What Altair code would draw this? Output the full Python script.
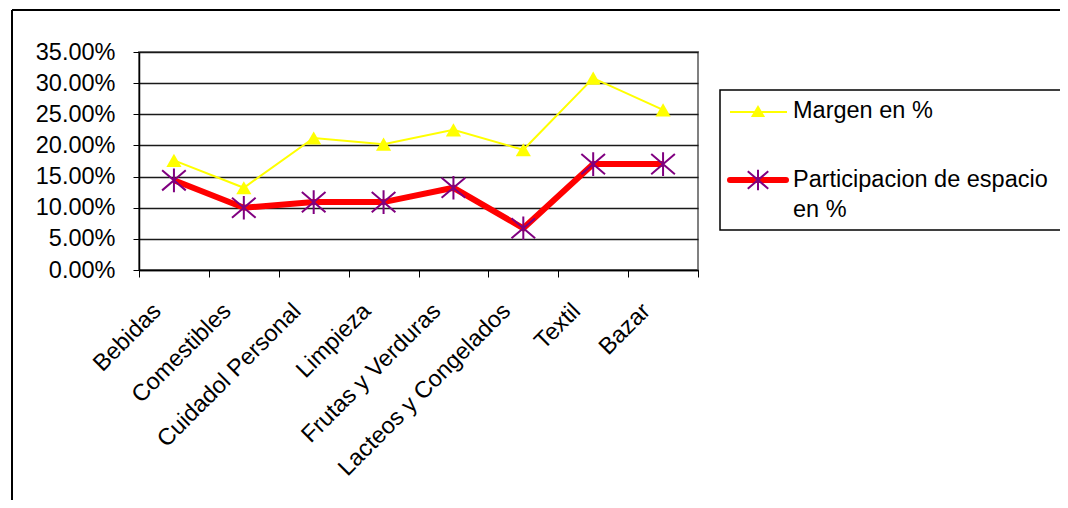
import altair as alt
import pandas as pd

categories = ["Bebidas", "Comestibles", "Cuidadol Personal", "Limpieza",
              "Frutas y Verduras", "Lacteos y Congelados", "Textil", "Bazar"]
margen = [0.176, 0.132, 0.212, 0.202, 0.225, 0.193, 0.308, 0.257]
participacion = [0.144, 0.100, 0.109, 0.109, 0.132, 0.067, 0.170, 0.170]
y_ticks = [0.0, 0.05, 0.10, 0.15, 0.20, 0.25, 0.30, 0.35]
series_names = ["Margen en %", "Participacion de espacio\nen %"]

FONT = "Liberation Sans"
FS = 23.5

df_m = pd.DataFrame({"cat": categories, "val": margen})
df_p = pd.DataFrame({"cat": categories, "val": participacion})
one = pd.DataFrame({"k": [0]})

x_enc = alt.X("cat:N", sort=categories,
              scale=alt.Scale(type="band", paddingInner=0, paddingOuter=0),
              axis=alt.Axis(title=None, labelAngle=-45, labelAlign="right",
                            labelBaseline="alphabetic", labelPadding=35,
                            labelOffset=-12,
                            tickBand="extent", tickSize=7, tickColor="black",
                            domainColor="black", domainWidth=1.5,
                            labelFont=FONT, labelFontSize=FS, labelColor="black",
                            grid=False, labelOverlap=False, labelBound=False,
                            labelFlush=False, labelLimit=0))
y_enc = alt.Y("val:Q", scale=alt.Scale(domain=[0, 0.35], nice=False, zero=True),
              axis=alt.Axis(title=None, values=y_ticks, format=".2%",
                            tickSize=6, tickColor="black", domainColor="black",
                            domainWidth=1.5, labelPadding=18,
                            labelFont=FONT, labelFontSize=FS, labelColor="black",
                            grid=True, gridColor="#1a1a1a", gridWidth=1.3,
                            gridOpacity=1, labelLimit=0))

m_line = alt.Chart(df_m).mark_line(color="#FFFF00", strokeWidth=2).encode(x=x_enc, y=y_enc)
m_pts = alt.Chart(df_m).mark_point(shape="triangle-up", filled=True, color="#FFFF00",
                                   opacity=1, size=230).encode(x=x_enc, y=y_enc)
p_line = alt.Chart(df_p).mark_line(color="#FF0000", strokeWidth=6).encode(x=x_enc, y=y_enc)
STAR = "M0,-1L0,1M-1,-0.85L1,0.85M-1,0.85L1,-0.85"
p_pts = alt.Chart(df_p).mark_point(shape=STAR, filled=False, color="#800080",
                                   strokeWidth=2, opacity=1, size=560).encode(x=x_enc, y=y_enc)

# outer frame
frame_top = alt.Chart(one).mark_rule(color="black", strokeWidth=2).encode(
    x=alt.value(-127), x2=alt.value(935), y=alt.value(-42))
frame_left = alt.Chart(one).mark_rule(color="black", strokeWidth=2).encode(
    x=alt.value(-127), y=alt.value(-42), y2=alt.value(460))

# legend
leg_box = alt.Chart(one).mark_rect(fill="white", stroke="black", strokeWidth=1.5).encode(
    x=alt.value(581), x2=alt.value(940), y=alt.value(38), y2=alt.value(178))
leg_l1 = alt.Chart(one).mark_rule(color="#FFFF00", strokeWidth=2).encode(
    x=alt.value(591), x2=alt.value(648), y=alt.value(60))
leg_s1 = alt.Chart(one).mark_point(shape="triangle-up", filled=True, color="#FFFF00",
                                   opacity=1, size=200).encode(x=alt.value(619), y=alt.value(59))
leg_t1 = alt.Chart(one).mark_text(align="left", baseline="middle", font=FONT,
                                  fontSize=FS, color="black", text=series_names[0]).encode(
    x=alt.value(654), y=alt.value(59))
leg_l2 = alt.Chart(one).mark_rule(color="#FF0000", strokeWidth=6, strokeCap="round").encode(
    x=alt.value(591), x2=alt.value(647), y=alt.value(128))
leg_s2 = alt.Chart(one).mark_point(shape=STAR, filled=False, color="#800080",
                                   strokeWidth=2, opacity=1, size=420).encode(
    x=alt.value(619), y=alt.value(128))
leg_t2 = alt.Chart(one).mark_text(align="left", baseline="middle", font=FONT,
                                  fontSize=FS, color="black", lineBreak="\n",
                                  lineHeight=30, text=series_names[1]).encode(
    x=alt.value(654), y=alt.value(128))

chart = alt.layer(
    frame_top, frame_left, m_line, p_line, m_pts, p_pts,
    leg_box, leg_l1, leg_s1, leg_t1, leg_l2, leg_s2, leg_t2
).properties(
    width=559, height=218,
    autosize=alt.AutoSizeParams(type="none"),
    padding={"left": 131, "top": 44, "right": 362, "bottom": 230},
    background="white",
).configure_view(stroke="#808080", strokeWidth=2)

chart.save("out.html", embed_options={"renderer": "svg", "actions": False})
